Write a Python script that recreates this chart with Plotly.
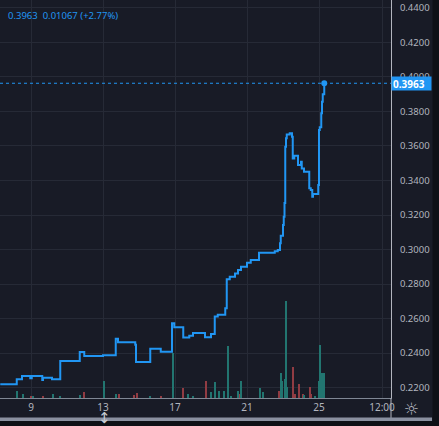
import plotly.graph_objects as go

# ---- price series (step changes) ----
price_times = [
    "2021-03-07 07:00", "2021-03-08 05:00", "2021-03-08 12:00", "2021-03-08 23:00",
    "2021-03-09 01:00", "2021-03-09 15:00", "2021-03-09 16:00", "2021-03-10 04:00",
    "2021-03-10 15:00", "2021-03-11 17:00", "2021-03-11 23:00", "2021-03-13 00:00",
    "2021-03-13 17:00", "2021-03-13 20:00", "2021-03-14 19:00", "2021-03-14 20:00",
    "2021-03-15 15:00", "2021-03-16 05:00", "2021-03-16 20:00", "2021-03-16 23:00",
    "2021-03-17 11:00", "2021-03-17 19:00", "2021-03-18 00:00", "2021-03-18 16:00",
    "2021-03-19 00:00", "2021-03-19 05:00", "2021-03-19 09:00", "2021-03-19 19:00",
    "2021-03-19 21:00", "2021-03-20 01:00", "2021-03-20 08:00", "2021-03-20 12:00",
    "2021-03-20 16:00", "2021-03-21 00:00", "2021-03-21 05:00", "2021-03-21 16:00",
    "2021-03-22 13:00", "2021-03-22 17:00", "2021-03-22 20:00", "2021-03-22 21:00",
    "2021-03-23 00:00", "2021-03-23 01:00", "2021-03-23 02:00", "2021-03-23 03:00",
    "2021-03-23 04:00", "2021-03-23 05:00", "2021-03-23 09:00", "2021-03-23 12:00",
    "2021-03-23 13:00", "2021-03-23 15:00", "2021-03-23 20:00", "2021-03-24 00:00",
    "2021-03-24 01:00", "2021-03-24 04:00", "2021-03-24 11:00", "2021-03-24 13:00",
    "2021-03-24 15:00", "2021-03-24 16:00", "2021-03-24 23:00", "2021-03-25 00:00",
    "2021-03-25 01:00", "2021-03-25 03:00", "2021-03-25 04:00", "2021-03-25 05:00",
    "2021-03-25 07:00",
]
price_values = [
    0.2220, 0.2249, 0.2268, 0.2254,
    0.2268, 0.2245, 0.2258, 0.2249,
    0.2355, 0.2407, 0.2384, 0.2388,
    0.2484, 0.2463, 0.2449, 0.2349,
    0.2426, 0.2408, 0.2573, 0.2550,
    0.2490, 0.2501, 0.2517, 0.2492,
    0.2511, 0.2613, 0.2623, 0.2660,
    0.2828, 0.2843, 0.2862, 0.2881,
    0.2901, 0.2924, 0.2939, 0.2982,
    0.2990, 0.2997, 0.3036, 0.3080,
    0.3142, 0.3190, 0.3269, 0.3595,
    0.3644, 0.3667, 0.3673, 0.3653,
    0.3528, 0.3543, 0.3489, 0.3509,
    0.3470, 0.3451, 0.3355, 0.3345,
    0.3306, 0.3321, 0.3374, 0.3692,
    0.3708, 0.3789, 0.3856, 0.3900,
    0.3963,
]

# ---- volume bars ----
vol_times = [
    "2021-03-08 05:00", "2021-03-08 13:00", "2021-03-09 00:00", "2021-03-09 03:00",
    "2021-03-09 16:00", "2021-03-10 05:00", "2021-03-10 15:00", "2021-03-11 17:00",
    "2021-03-11 23:00", "2021-03-13 01:00", "2021-03-13 17:00", "2021-03-13 21:00",
    "2021-03-14 17:00", "2021-03-14 21:00", "2021-03-15 15:00", "2021-03-16 05:00",
    "2021-03-16 21:00", "2021-03-17 11:00", "2021-03-17 17:00", "2021-03-18 00:00",
    "2021-03-18 17:00", "2021-03-19 00:00", "2021-03-19 05:00", "2021-03-19 11:00",
    "2021-03-19 17:00", "2021-03-19 23:00", "2021-03-20 03:00", "2021-03-20 12:00",
    "2021-03-20 15:00", "2021-03-20 16:00", "2021-03-21 17:00", "2021-03-21 21:00",
    "2021-03-22 19:00", "2021-03-22 21:00", "2021-03-22 23:00", "2021-03-23 03:00",
    "2021-03-23 04:00", "2021-03-23 05:00", "2021-03-23 13:00", "2021-03-23 16:00",
    "2021-03-23 21:00", "2021-03-24 03:00", "2021-03-24 04:00", "2021-03-24 12:00",
    "2021-03-24 13:00", "2021-03-24 19:00", "2021-03-25 00:00", "2021-03-25 01:00",
    "2021-03-25 04:00", "2021-03-25 07:00",
]
vol_values = [
    6.7, 3.7, 1.2, 1.2,
    2.0, 4.3, 2.0, 2.7,
    5.7, 17, 4.3, 4.3,
    3.5, 5.0, 1.5, 2.0,
    45, 10.5, 4.5, 1.5,
    17, 6.5, 16.5, 7,
    7, 52, 1.5, 7,
    4, 17, 10, 6,
    7, 25, 17, 19,
    97, 11, 31, 4,
    14, 4, 3, 11,
    4, 2, 17, 53,
    25, 25,
]
vol_up = [
    True, True, False, True,
    False, True, True, True,
    False, True, True, False,
    False, False, True, False,
    True, False, True, True,
    False, True, True, True,
    True, True, True, True,
    False, True, True, True,
    False, True, True, True,
    True, True, False, False,
    False, False, True, False,
    False, True, True, True,
    True, True,
]

# ---- axis ticks ----
x_tickvals = ["2021-03-09", "2021-03-13", "2021-03-17", "2021-03-21", "2021-03-25", "2021-03-28 12:00"]
x_ticktext = ["9", "13", "17", "21", "25", "12:00"]
y_tickvals = [0.22, 0.24, 0.26, 0.28, 0.30, 0.32, 0.34, 0.36, 0.38, 0.40, 0.42, 0.44]

last_price = 0.3963
legend_text = "0.3963&nbsp;&nbsp;0.01067 (+2.77%)"

BG = "#181b26"
DARK = "#0e1016"
GRID = "#262a36"
TXT = "#b2b5be"
BLUE = "#2196f3"
GREEN = "#227570"
RED = "#913c43"

W, H = 439, 426
ML, MR, MT, MB = 0, 48, 0, 28
PW, PH = W - ML - MR, H - MT - MB

def px(xp):
    return xp / PW

def py(yp):
    # yp in pixels from top of figure
    return 1 - (yp - MT) / PH

fig = go.Figure()
fig.add_trace(go.Bar(
    x=vol_times, y=vol_values,
    marker=dict(color=[GREEN if u else RED for u in vol_up], line=dict(width=0)),
    width=5.4e6, yaxis="y", hoverinfo="skip",
))
fig.add_trace(go.Scatter(
    x=price_times, y=price_values, mode="lines", yaxis="y2",
    line=dict(color=BLUE, width=2, shape="hv"),
))
fig.add_trace(go.Scatter(
    x=[price_times[-1]], y=[price_values[-1]], mode="markers", yaxis="y2",
    marker=dict(color=BLUE, size=6),
))

fig.update_layout(
    width=W, height=H,
    margin=dict(l=ML, r=MR, t=MT, b=MB, pad=0, autoexpand=False),
    paper_bgcolor=BG, plot_bgcolor=BG,
    showlegend=False, bargap=0,
    font=dict(family="Noto Sans, DejaVu Sans, sans-serif", color=TXT, size=10),
    xaxis=dict(
        type="date", automargin=False,
        range=["2021-03-07 06:40", "2021-03-29 00:00"],
        tickvals=x_tickvals, ticktext=x_ticktext,
        showgrid=True, gridcolor=GRID, gridwidth=1,
        showline=True, linecolor="#7f8794", linewidth=1,
        ticks="", zeroline=False,
        tickfont=dict(size=10, color=TXT),
    ),
    yaxis=dict(
        range=[0, 398], visible=False, showgrid=False, zeroline=False, automargin=False,
    ),
    yaxis2=dict(
        overlaying="y", side="right", automargin=False,
        range=[0.21403, 0.44452],
        tickvals=y_tickvals, tickformat=".4f",
        showgrid=True, gridcolor=GRID, gridwidth=1,
        showline=True, linecolor="#b2b5be", linewidth=1,
        ticks="", zeroline=False, ticklabelstandoff=6,
        tickfont=dict(size=9.5, color=TXT),
    ),
    shapes=[
        # dotted last-price line
        dict(type="line", xref="paper", yref="y2", x0=0, x1=1, y0=last_price, y1=last_price,
             line=dict(color=BLUE, width=1, dash="dot")),
        # separator continuing below plot
        dict(type="line", xref="paper", yref="paper", x0=1, x1=1, y0=py(398), y1=py(419),
             line=dict(color="#b2b5be", width=1)),
        # scrollbar
        dict(type="rect", xref="paper", yref="paper", x0=0, x1=px(432), y0=py(421), y1=py(417.5),
             fillcolor="#8a90a0", line=dict(width=0), layer="above"),
        # dark bottom strip
        dict(type="rect", xref="paper", yref="paper", x0=0, x1=px(W), y0=py(H), y1=py(421),
             fillcolor=DARK, line=dict(width=0), layer="above"),
        # dark right strip
        dict(type="rect", xref="paper", yref="paper", x0=px(432.5), x1=px(W), y0=py(H), y1=py(0),
             fillcolor=DARK, line=dict(width=0), layer="above"),
    ],
    annotations=[
        dict(xref="paper", yref="paper", x=px(6), y=py(16), xanchor="left", yanchor="middle",
             text=legend_text, showarrow=False, font=dict(color=BLUE, size=9.5)),
        dict(xref="paper", yref="y2", x=1, y=last_price, xanchor="left", yanchor="middle",
             text="<b>0.3963</b>", showarrow=False, bgcolor=BLUE, width=37, height=11,
             align="left", borderpad=1, font=dict(color="white", size=10)),
        dict(xref="paper", yref="paper", x=px(412), y=py(408), xanchor="center", yanchor="middle",
             text="☼", showarrow=False, font=dict(color=TXT, size=17)),
        dict(xref="paper", yref="paper", x=px(104), y=py(417), xanchor="center", yanchor="middle",
             text="↕", showarrow=False, font=dict(color="#c8cbd2", size=15)),
    ],
)

fig.write_html(
    "out.html",
    config={"displayModeBar": False},
    post_script="document.body.style.margin='0px';document.body.style.background='#181b26';",
)
